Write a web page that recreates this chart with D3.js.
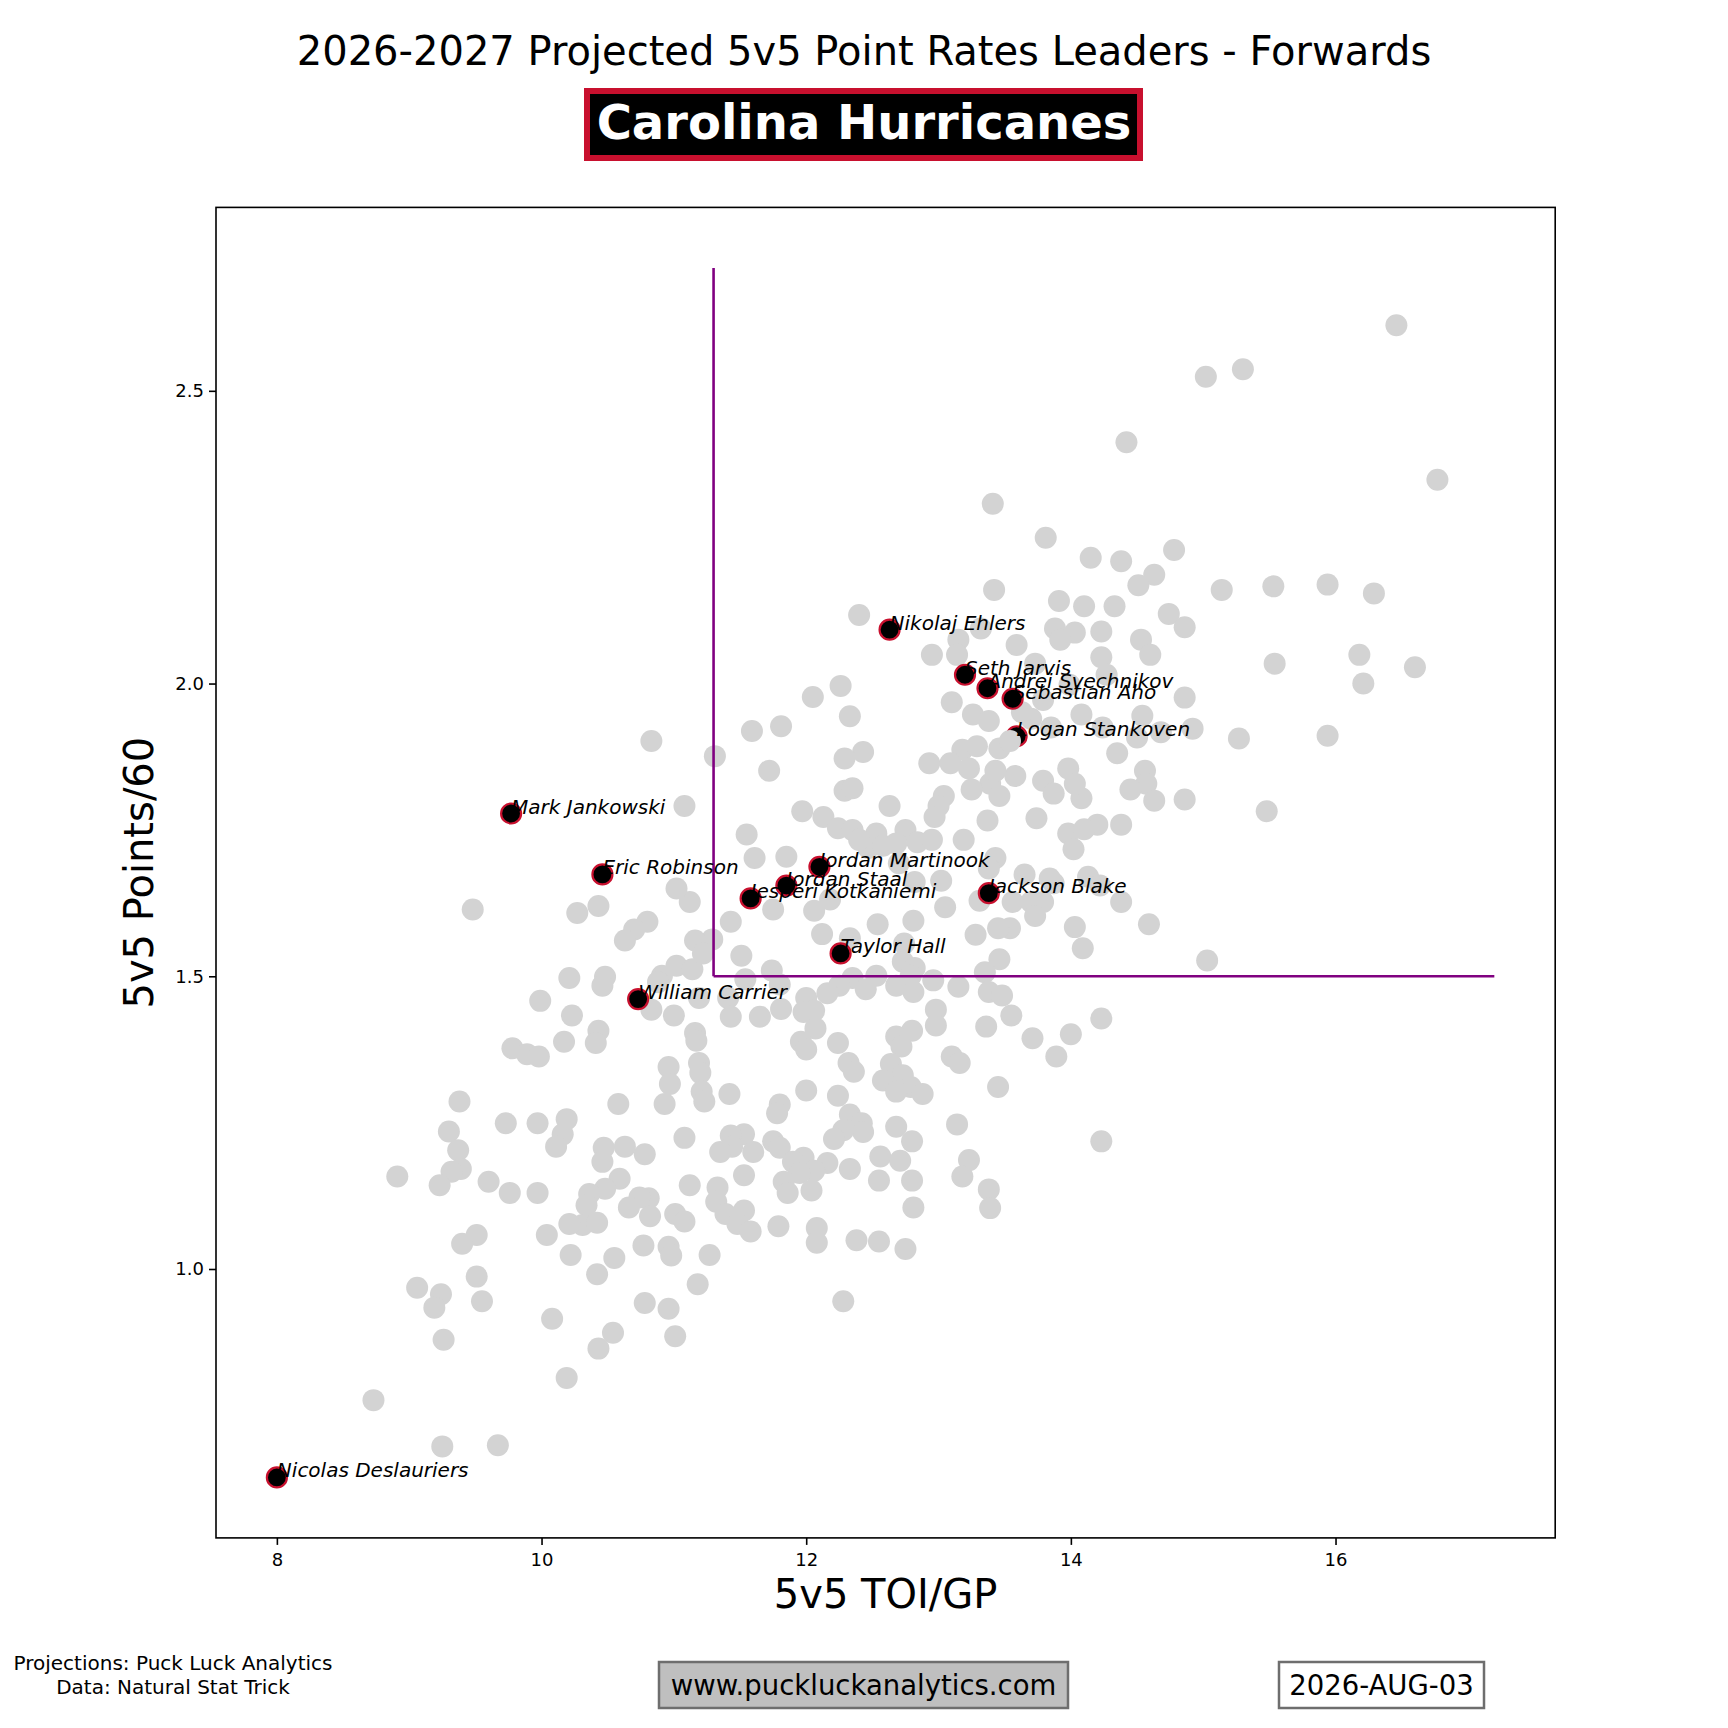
<!DOCTYPE html>
<html>
<head>
<meta charset="utf-8">
<script src="https://cdn.jsdelivr.net/npm/d3@7"></script>
<style>
  body { margin: 0; background: #fff; }
  text { font-family: "DejaVu Sans", sans-serif; }
</style>
</head>
<body>
<div id="chart"></div>
<script>
// league forwards: [5v5 TOI/GP, 5v5 Points/60]
const leaguePlayers = [
  [16.46,2.612],[15.30,2.537],[15.02,2.524],[14.42,2.412],[16.77,2.348],[13.41,2.307],[13.81,2.249],
  [14.78,2.228],[14.15,2.215],[14.38,2.209],[14.63,2.186],[14.51,2.168],[13.42,2.160],[15.14,2.160],
  [15.53,2.166],[15.94,2.169],[16.29,2.154],[13.91,2.141],[14.10,2.132],[14.33,2.132],[12.40,2.117],
  [14.74,2.119],[14.86,2.096],[13.88,2.094],[13.32,2.094],[13.15,2.075],[14.23,2.089],[14.03,2.087],
  [13.92,2.075],[13.59,2.066],[14.53,2.075],[12.95,2.049],[13.14,2.049],[14.23,2.045],[14.60,2.049],
  [16.18,2.049],[15.54,2.034],[16.60,2.028],[13.73,2.034],[14.27,2.015],[12.26,1.996],[12.05,1.977],
  [16.21,2.000],[13.99,1.998],[14.86,1.976],[13.10,1.968],[13.79,1.972],[12.33,1.944],[13.26,1.947],
  [13.38,1.936],[14.08,1.947],[14.54,1.945],[13.70,1.940],[11.59,1.919],[11.81,1.927],[14.92,1.923],
  [14.68,1.917],[15.27,1.906],[15.94,1.911],[10.83,1.902],[13.85,1.925],[14.24,1.925],[14.50,1.908],
  [11.31,1.876],[12.43,1.883],[12.29,1.872],[13.18,1.887],[13.29,1.893],[13.46,1.889],[14.35,1.881],
  [12.93,1.864],[13.09,1.864],[11.72,1.851],[13.98,1.855],[14.56,1.851],[13.58,1.842],[13.79,1.834],
  [13.39,1.829],[14.57,1.829],[12.29,1.817],[12.35,1.821],[13.25,1.819],[14.45,1.819],[13.87,1.812],
  [13.46,1.808],[13.04,1.808],[14.08,1.804],[14.63,1.800],[14.86,1.802],[13.00,1.791],[12.63,1.791],
  [11.08,1.791],[11.97,1.782],[15.48,1.782],[12.97,1.772],[12.13,1.772],[13.74,1.770],[13.37,1.766],
  [12.24,1.753],[12.35,1.750],[14.38,1.759],[14.20,1.759],[13.98,1.744],[14.10,1.751],[12.53,1.744],
  [12.75,1.750],[11.55,1.742],[13.19,1.733],[12.84,1.729],[12.47,1.719],[12.58,1.723],[12.68,1.727],
  [12.95,1.733],[14.02,1.717],[11.61,1.702],[11.85,1.704],[13.43,1.702],[12.70,1.693],[13.38,1.684],
  [13.65,1.674],[14.13,1.670],[12.82,1.661],[13.02,1.663],[13.87,1.659],[13.56,1.627],[13.70,1.627],
  [13.79,1.627],[14.38,1.627],[13.05,1.618],[13.31,1.629],[11.75,1.614],[12.06,1.612],[9.48,1.614],
  [10.27,1.608],[10.43,1.620],[11.12,1.627],[11.02,1.650],[11.43,1.593],[10.80,1.593],[14.59,1.589],
  [14.03,1.584],[13.54,1.582],[13.73,1.603],[12.54,1.589],[12.81,1.595],[13.28,1.571],[13.45,1.582],
  [10.70,1.580],[12.12,1.572],[10.63,1.561],[11.29,1.563],[11.16,1.561],[12.74,1.556],[12.33,1.565],
  [14.09,1.548],[11.51,1.535],[12.73,1.525],[13.46,1.529],[15.03,1.527],[11.02,1.518],[10.91,1.501],
  [11.14,1.512],[13.35,1.507],[12.82,1.514],[10.48,1.499],[10.21,1.497],[11.74,1.510],[11.54,1.495],
  [12.53,1.501],[12.35,1.497],[12.79,1.501],[12.96,1.493],[13.15,1.482],[10.46,1.484],[11.80,1.486],
  [12.25,1.484],[12.68,1.484],[13.38,1.473],[13.48,1.467],[12.16,1.471],[12.81,1.473],[12.45,1.478],
  [11.19,1.463],[12.00,1.463],[11.41,1.463],[9.99,1.458],[10.83,1.443],[11.65,1.431],[11.81,1.444],
  [12.06,1.441],[11.98,1.439],[12.98,1.443],[11.00,1.433],[10.23,1.433],[11.43,1.431],[13.55,1.433],
  [14.23,1.428],[13.36,1.414],[12.07,1.411],[12.80,1.407],[10.43,1.407],[12.98,1.416],[11.16,1.403],
  [11.17,1.390],[12.68,1.397],[14.00,1.401],[13.71,1.394],[11.96,1.388],[12.24,1.386],[10.17,1.388],
  [10.41,1.386],[12.72,1.380],[9.78,1.377],[9.89,1.367],[12.00,1.375],[9.98,1.363],[13.89,1.363],
  [13.10,1.363],[13.16,1.352],[12.64,1.350],[12.32,1.352],[11.19,1.352],[10.96,1.345],[12.36,1.337],
  [11.20,1.335],[12.73,1.331],[12.58,1.322],[10.97,1.316],[12.79,1.311],[12.68,1.303],[11.21,1.303],
  [13.45,1.311],[12.88,1.299],[12.24,1.296],[11.42,1.299],[12.00,1.305],[9.38,1.286],[11.23,1.286],
  [10.93,1.282],[10.58,1.282],[11.80,1.281],[11.78,1.266],[12.33,1.264],[10.19,1.256],[9.73,1.249],
  [9.97,1.249],[13.14,1.247],[12.42,1.249],[12.68,1.243],[9.30,1.235],[10.16,1.230],[11.08,1.224],
  [12.43,1.234],[12.28,1.237],[11.53,1.230],[11.43,1.228],[12.80,1.218],[12.21,1.222],[11.75,1.218],
  [11.80,1.207],[14.23,1.218],[11.44,1.209],[10.11,1.209],[10.63,1.209],[10.47,1.207],[11.60,1.200],
  [11.35,1.200],[9.37,1.203],[10.78,1.196],[13.23,1.186],[11.98,1.190],[12.56,1.192],[10.46,1.183],
  [12.16,1.181],[11.90,1.183],[12.71,1.185],[9.39,1.171],[9.32,1.166],[12.06,1.168],[12.33,1.171],
  [11.95,1.164],[13.18,1.158],[11.53,1.160],[8.91,1.158],[9.60,1.149],[10.59,1.154],[12.55,1.151],
  [12.80,1.151],[11.83,1.149],[9.23,1.143],[11.12,1.143],[10.48,1.137],[11.33,1.139],[11.86,1.130],
  [12.04,1.134],[9.76,1.130],[9.97,1.130],[10.36,1.128],[13.38,1.136],[10.81,1.121],[10.74,1.122],
  [11.32,1.115],[10.34,1.109],[12.81,1.105],[13.39,1.104],[11.53,1.100],[10.66,1.105],[11.39,1.094],
  [11.01,1.094],[10.82,1.090],[10.31,1.075],[10.21,1.077],[10.42,1.079],[11.08,1.081],[11.48,1.077],
  [11.79,1.073],[12.08,1.070],[12.08,1.045],[9.51,1.058],[10.04,1.058],[11.58,1.064],[12.55,1.047],
  [12.38,1.049],[12.75,1.034],[10.96,1.038],[10.77,1.040],[9.40,1.043],[11.27,1.024],[10.98,1.023],
  [10.22,1.024],[10.55,1.019],[9.51,0.987],[10.42,0.991],[9.06,0.968],[11.18,0.974],[9.24,0.957],
  [9.55,0.945],[10.78,0.942],[12.28,0.945],[9.19,0.934],[10.96,0.932],[10.08,0.915],[10.54,0.891],
  [11.01,0.885],[9.26,0.879],[10.43,0.864],[10.19,0.814],[8.73,0.776],[9.25,0.697],[9.67,0.699],
  [12.40,1.733],[12.18,1.631],[11.22,1.539],[10.88,1.490],[13.23,1.855],[13.43,1.851],[14.03,1.829],
  [13.84,1.667],[14.22,1.655],[13.63,1.951]
];
// one league dot plotted after the team dots (sits on top of Stankoven)
const leagueLate = [[13.54, 1.902]];

const teamNames = ["Nicolas Deslauriers", "Mark Jankowski", "Eric Robinson", "William Carrier",
  "Jesperi Kotkaniemi", "Jordan Staal", "Jordan Martinook", "Taylor Hall", "Nikolaj Ehlers",
  "Seth Jarvis", "Andrei Svechnikov", "Sebastian Aho", "Logan Stankoven", "Jackson Blake"];
const teamToi = [8.00, 9.77, 10.46, 10.73, 11.58, 11.85, 12.10, 12.26, 12.63, 13.20, 13.37, 13.56, 13.59, 13.38];
const teamPts = [0.644, 1.778, 1.674, 1.461, 1.633, 1.655, 1.687, 1.539, 2.092, 2.015, 1.992, 1.974, 1.910, 1.642];

// quadrant guide lines
const avgToi = 11.3, avgPts = 1.5, lineMaxToi = 17.2, lineMaxPts = 2.71;

const xTicks = [8, 10, 12, 14, 16];
const yTicks = [1.0, 1.5, 2.0, 2.5];

const W = 1728, H = 1728;
const plotLeft = 216, plotRight = 1555.2, plotTop = 207.4, plotBottom = 1537.9;
const teamColor = "#c8102e";

const svg = d3.select("#chart").append("svg")
  .attr("width", W).attr("height", H);
svg.append("rect").attr("width", W).attr("height", H).attr("fill", "#fff");

// autoscale like matplotlib: data extent plus 5% margins
const allX = leaguePlayers.map(d => d[0]).concat(teamToi, [avgToi, lineMaxToi]);
const allY = leaguePlayers.map(d => d[1]).concat(teamPts, [avgPts, lineMaxPts]);
const pad = (ext) => {
  const m = (ext[1] - ext[0]) * 0.05;
  return [ext[0] - m, ext[1] + m];
};
const x = d3.scaleLinear().domain(pad(d3.extent(allX))).range([plotLeft, plotRight]);
const y = d3.scaleLinear().domain(pad(d3.extent(allY))).range([plotBottom, plotTop]);

const plot = svg.append("g");

plot.selectAll("circle.league")
  .data(leaguePlayers)
  .enter().append("circle")
  .attr("class", "league")
  .attr("cx", d => x(d[0]))
  .attr("cy", d => y(d[1]))
  .attr("r", 11)
  .attr("fill", "#d3d3d3");

// guide lines
plot.append("line")
  .attr("x1", x(avgToi)).attr("x2", x(avgToi))
  .attr("y1", y(avgPts)).attr("y2", y(lineMaxPts))
  .attr("stroke", "purple").attr("stroke-width", 2.6);
plot.append("line")
  .attr("x1", x(avgToi)).attr("x2", x(lineMaxToi))
  .attr("y1", y(avgPts)).attr("y2", y(avgPts))
  .attr("stroke", "purple").attr("stroke-width", 2.6);

const team = teamNames.map((n, i) => ({ name: n, toi: teamToi[i], pts: teamPts[i] }));

plot.selectAll("circle.team")
  .data(team)
  .enter().append("circle")
  .attr("class", "team")
  .attr("cx", d => x(d.toi))
  .attr("cy", d => y(d.pts))
  .attr("r", 10)
  .attr("fill", "#000")
  .attr("stroke", teamColor)
  .attr("stroke-width", 2.2);

plot.selectAll("circle.late")
  .data(leagueLate)
  .enter().append("circle")
  .attr("class", "late")
  .attr("cx", d => x(d[0]))
  .attr("cy", d => y(d[1]))
  .attr("r", 11)
  .attr("fill", "#d3d3d3");

plot.selectAll("text.name")
  .data(team)
  .enter().append("text")
  .attr("class", "name")
  .attr("x", d => x(d.toi))
  .attr("y", d => y(d.pts))
  .attr("font-size", "20px")
  .attr("font-style", "italic")
  .attr("fill", "#000")
  .text(d => d.name);

// frame
svg.append("rect")
  .attr("x", plotLeft).attr("y", plotTop)
  .attr("width", plotRight - plotLeft).attr("height", plotBottom - plotTop)
  .attr("fill", "none").attr("stroke", "#000").attr("stroke-width", 1.6);

const xAxis = svg.append("g")
  .attr("transform", `translate(0,${plotBottom})`)
  .call(d3.axisBottom(x).tickValues(xTicks).tickFormat(d3.format("d")).tickSize(7).tickPadding(8));
const yAxis = svg.append("g")
  .attr("transform", `translate(${plotLeft},0)`)
  .call(d3.axisLeft(y).tickValues(yTicks).tickFormat(d3.format(".1f")).tickSize(7).tickPadding(5));
[xAxis, yAxis].forEach(a => {
  a.select(".domain").remove();
  a.selectAll(".tick line").attr("stroke", "#000").attr("stroke-width", 1.6);
  a.selectAll(".tick text")
    .attr("fill", "#000")
    .style("font-family", "DejaVu Sans")
    .style("font-size", "18px");
});

// axis titles
svg.append("text")
  .attr("x", (plotLeft + plotRight) / 2).attr("y", 1608)
  .attr("text-anchor", "middle")
  .attr("font-size", "40px")
  .text("5v5 TOI/GP");
svg.append("text")
  .attr("transform", `translate(153,${(plotTop + plotBottom) / 2}) rotate(-90)`)
  .attr("text-anchor", "middle")
  .attr("font-size", "40px")
  .text("5v5 Points/60");

// titles
svg.append("text")
  .attr("x", W / 2).attr("y", 65)
  .attr("text-anchor", "middle")
  .attr("font-size", "40px")
  .text("2026-2027 Projected 5v5 Point Rates Leaders - Forwards");

svg.append("rect")
  .attr("x", 587).attr("y", 91).attr("width", 553).attr("height", 67)
  .attr("fill", "#000").attr("stroke", teamColor).attr("stroke-width", 6);
svg.append("text")
  .attr("x", W / 2).attr("y", 139)
  .attr("text-anchor", "middle")
  .attr("font-size", "48px")
  .attr("font-weight", "bold")
  .attr("fill", "#fff")
  .text("Carolina Hurricanes");

// footer
svg.append("text")
  .attr("x", 173).attr("y", 1670)
  .attr("text-anchor", "middle")
  .attr("font-size", "20px")
  .text("Projections: Puck Luck Analytics");
svg.append("text")
  .attr("x", 173).attr("y", 1694)
  .attr("text-anchor", "middle")
  .attr("font-size", "20px")
  .text("Data: Natural Stat Trick");

svg.append("rect")
  .attr("x", 659).attr("y", 1662).attr("width", 409).attr("height", 46)
  .attr("fill", "#bfbfbf").attr("stroke", "#6e6e6e").attr("stroke-width", 2.5);
svg.append("text")
  .attr("x", 863.5).attr("y", 1695)
  .attr("text-anchor", "middle")
  .attr("font-size", "27.5px")
  .text("www.puckluckanalytics.com");

svg.append("rect")
  .attr("x", 1279).attr("y", 1662).attr("width", 205).attr("height", 46)
  .attr("fill", "#fff").attr("stroke", "#6e6e6e").attr("stroke-width", 2.5);
svg.append("text")
  .attr("x", 1381.5).attr("y", 1695)
  .attr("text-anchor", "middle")
  .attr("font-size", "27.5px")
  .text("2026-AUG-03");
</script>
</body>
</html>
